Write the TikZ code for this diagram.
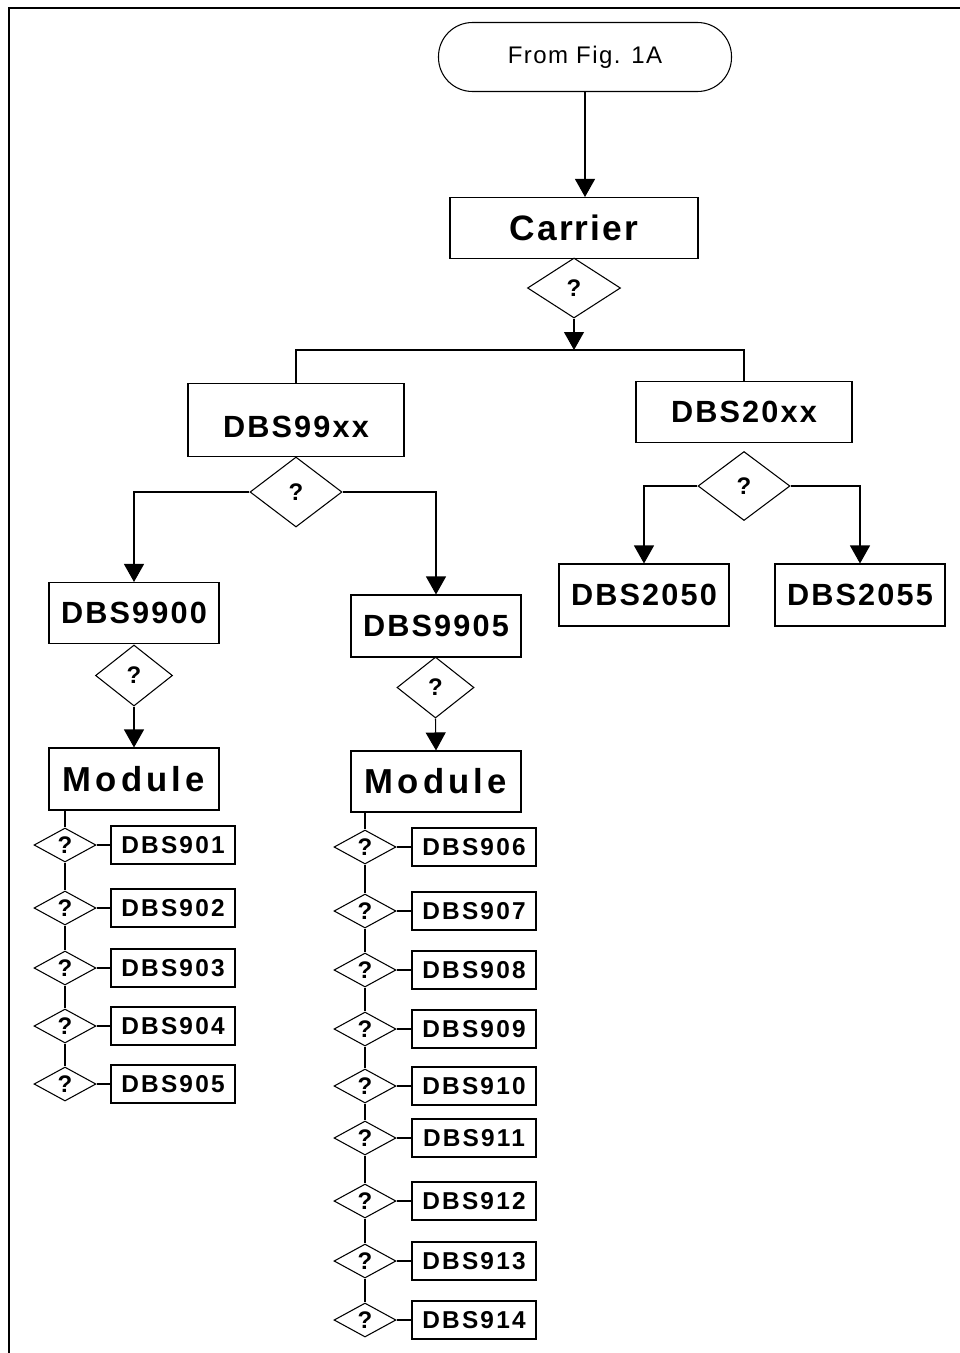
\documentclass[tikz,border=0pt]{standalone}
\usepackage{fontspec}
\setmainfont{Liberation Sans}
\usetikzlibrary{shapes.geometric,arrows.meta}
\newcommand\pxu{0.75pt}
\begin{document}
\begin{tikzpicture}[x=0.75pt,y=-0.75pt,
  line width=0.8pt,
  box/.style={draw,rectangle,inner sep=0pt,minimum width=#1},
  bigtxt/.style={font=\fontsize{26.5}{28}\selectfont\bfseries\addfontfeature{LetterSpace=6}},
  bigtxtm/.style={font=\fontsize{26}{28}\selectfont\bfseries\addfontfeature{LetterSpace=12}},
  midtxt/.style={font=\fontsize{23}{25}\selectfont\bfseries\addfontfeature{LetterSpace=7}},
  smltxt/.style={font=\fontsize{18.3}{20}\selectfont\bfseries\addfontfeature{LetterSpace=9}},
  qtxt/.style={font=\fontsize{18}{20}\selectfont\bfseries},
  dia/.style={draw,diamond,inner sep=0pt,qtxt},
  arr/.style={-{Triangle[width=15pt,length=13.5pt]}},
  frame/.style={line width=2pt}
]
\useasboundingbox (0,0) rectangle (960,1353);
% frame (top and left edges)
\coordinate (fa) at (9,1353);
\coordinate (fb) at (9,8);
\coordinate (fc) at (962,8);
\draw[frame] (fa) -- (fb) -- (fc);

% top
\node[draw,rectangle,rounded corners=34*\pxu,minimum width=293*\pxu,minimum height=69*\pxu,
  font=\fontsize{18}{20}\selectfont\addfontfeature{LetterSpace=6}] (start) at (585,57) {From Fig. 1A};
\node[box=248*\pxu,minimum height=61*\pxu,bigtxt] (carrier) at (574,228) {Carrier};
\node[dia,minimum width=93*\pxu,minimum height=60*\pxu] (q0) at (574,288) {?};
\coordinate (bar) at (574,350);
\draw[arr] (start.south) -- (start.south |- carrier.north);
\draw[arr] (q0.south) -- (bar);

% second level
\node[box=216*\pxu,minimum height=73*\pxu,midtxt,text height=25.5pt,text depth=0pt] (b99) at (296,420) {DBS99xx};
\node[box=216*\pxu,minimum height=61*\pxu,midtxt] (b20) at (744,412) {DBS20xx};
\draw (b99.north) -- (b99.north |- bar) -- (b20.north |- bar) -- (b20.north);

\node[dia,minimum width=92*\pxu,minimum height=70*\pxu] (q99) at (296,492) {?};
\node[box=170*\pxu,minimum height=61*\pxu,midtxt] (b9900) at (134,613) {DBS9900};
\node[box=170*\pxu,minimum height=62*\pxu,midtxt] (b9905) at (436,626) {DBS9905};
\draw[arr] (q99.west) -| (b9900.north);
\draw[arr] (q99.east) -| (b9905.north);

\node[dia,minimum width=92*\pxu,minimum height=69*\pxu] (q20) at (744,486) {?};
\node[box=170*\pxu,minimum height=62*\pxu,midtxt] (b2050) at (644,595) {DBS2050};
\node[box=170*\pxu,minimum height=62*\pxu,midtxt] (b2055) at (860,595) {DBS2055};
\draw[arr] (q20.west) -| (b2050.north);
\draw[arr] (q20.east) -| (b2055.north);

% modules
\node[dia,minimum width=77*\pxu,minimum height=61*\pxu] (q9900) at (134,675.5) {?};
\node[box=170*\pxu,minimum height=62*\pxu,bigtxtm] (mod1) at (134,779) {Module};
\draw[arr] (q9900.south) -- (mod1.north);

\node[dia,minimum width=77*\pxu,minimum height=61*\pxu] (q9905) at (435.5,687.5) {?};
\node[box=170*\pxu,minimum height=61*\pxu,bigtxtm] (mod2) at (436,781.5) {Module};
\draw[arr] (q9905.south) -- (mod2.north);

% left list
\foreach \n/\y in {1/845,2/908,3/968,4/1026,5/1084}{
  \node[dia,minimum width=62*\pxu,minimum height=34*\pxu] (l\n) at (65,\y) {?};
  \node[box=124*\pxu,minimum height=38*\pxu,smltxt] (lb\n) at (173,\y) {DBS90\n};
  \draw (l\n.east) -- (lb\n.west);
}
\draw (l1.north |- mod1.south) -- (l1.north);
\draw (l1.south) -- (l2.north);
\draw (l2.south) -- (l3.north);
\draw (l3.south) -- (l4.north);
\draw (l4.south) -- (l5.north);

% right list
\foreach \n/\t/\y in {1/906/847,2/907/911,3/908/970,4/909/1029,5/910/1086,6/911/1138,7/912/1201,8/913/1261,9/914/1320}{
  \node[dia,minimum width=62*\pxu,minimum height=34*\pxu] (r\n) at (365,\y) {?};
  \node[box=124*\pxu,minimum height=38*\pxu,smltxt] (rb\n) at (474,\y) {DBS\t};
  \draw (r\n.east) -- (rb\n.west);
}
\draw (r1.north |- mod2.south) -- (r1.north);
\foreach \a/\b in {1/2,2/3,3/4,4/5,5/6,6/7,7/8,8/9}{
  \draw (r\a.south) -- (r\b.north);
}
\end{tikzpicture}
\end{document}
